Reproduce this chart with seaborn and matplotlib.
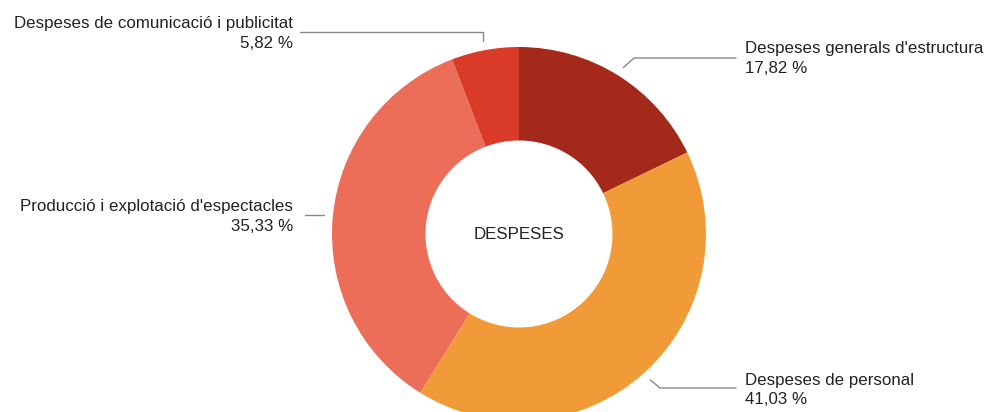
import numpy as np
import matplotlib
matplotlib.use("Agg")
import matplotlib.pyplot as plt
import seaborn as sns

# Dades del gràfic
categories = ["Despeses generals d'estructura", "Despeses de personal",
              "Producció i explotació d'espectacles", "Despeses de comunicació i publicitat"]
valors = [17.82, 41.03, 35.33, 5.82]
etiquetes_pct = ["17,82 %", "41,03 %", "35,33 %", "5,82 %"]
colors = ["#a5291a", "#f09b38", "#ec6d58", "#da3b28"]

sns.set_theme(style="white")
plt.rcParams['font.family'] = ['Liberation Sans', 'DejaVu Sans']

fig = plt.figure(figsize=(9.86, 4.12), dpi=100)
ax = fig.add_axes([0, 0, 1, 1])

cx, cy, r = 519, 178, 187
wedges, _ = ax.pie(valors, colors=colors, startangle=90, counterclock=False,
                   center=(cx, cy), radius=r, frame=True,
                   wedgeprops=dict(width=r * 0.5, edgecolor='none'))
ax.set_xlim(0, 986)
ax.set_ylim(0, 412)
ax.set_aspect('equal')
ax.axis('off')

fs = 12.2
ax.text(cx, cy, "DESPESES", ha='center', va='center', fontsize=fs, color='#222222')

# Línies guia i etiquetes
gris = '#888888'
for i, w in enumerate(wedges):
    ang = np.deg2rad((w.theta1 + w.theta2) / 2)
    x0 = cx + r * 1.05 * np.cos(ang)
    y0 = cy + r * 1.05 * np.sin(ang)
    if i == 0:
        pts = [(x0, y0), (634, 354), (736, 354)]
        tx, ha, ty = 745, 'left', 354
    elif i == 1:
        pts = [(x0, y0), (660, 24), (736, 24)]
        tx, ha, ty = 745, 'left', 22
    elif i == 2:
        pts = [(x0, y0), (305, y0)]
        tx, ha, ty = 293, 'right', y0 - 1
    else:
        pts = [(x0, y0), (x0, 380), (300, 380)]
        tx, ha, ty = 293, 'right', 379
    xs, ys = zip(*pts)
    ax.plot(xs, ys, color=gris, lw=1)
    ax.text(tx, ty + 10, categories[i], ha=ha, va='center', fontsize=fs, color='#222222')
    ax.text(tx, ty - 10, etiquetes_pct[i], ha=ha, va='center', fontsize=fs, color='#222222')

fig.savefig("out.png", dpi=100)
